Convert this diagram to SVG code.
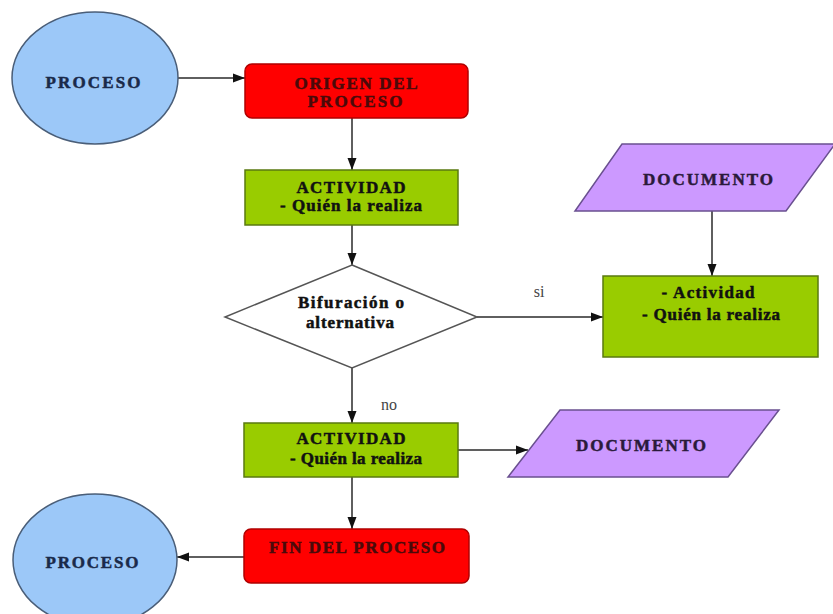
<svg xmlns="http://www.w3.org/2000/svg" width="833" height="614" viewBox="0 0 833 614">
<style>
.lbl{font-family:"Liberation Serif","Times New Roman",serif;font-weight:bold;font-size:17px;text-anchor:middle;stroke-width:0.5}
.edge{stroke:#2a2a2a;stroke-width:1.5;fill:none}
.proc{fill:#9cc8f8;stroke:#4a5e78;stroke-width:1.5}
.red{fill:#ff0000;stroke:#b00000;stroke-width:1.5}
.green{fill:#99cc00;stroke:#5a7a10;stroke-width:1.5}
.doc{fill:#cc99ff;stroke:#6a5090;stroke-width:1.5}
.dia{fill:#ffffff;stroke:#555555;stroke-width:1.5}
.small{font-family:"Liberation Serif","Times New Roman",serif;font-size:16px;fill:#444;text-anchor:middle}
.navy{fill:#1a2a4a;stroke:#1a2a4a}
.dred{fill:#4a0a0a;stroke:#4a0a0a}
.blk{fill:#111;stroke:#111}
.dpur{fill:#2a1a3a;stroke:#2a1a3a}
</style>
<defs>
<marker id="arr" viewBox="0 0 12 10" refX="12" refY="5" markerWidth="12" markerHeight="10" markerUnits="userSpaceOnUse" orient="auto">
<path d="M0,0.5 L12,5 L0,9.5 Z" fill="#111"/>
</marker>
</defs>
<rect width="833" height="614" fill="#ffffff"/>
<g id="connectors">
<line class="edge" x1="178" y1="78" x2="245" y2="78" marker-end="url(#arr)"/>
<line class="edge" x1="352" y1="118" x2="352" y2="170" marker-end="url(#arr)"/>
<line class="edge" x1="352" y1="225" x2="352" y2="265" marker-end="url(#arr)"/>
<line class="edge" x1="477" y1="317" x2="603" y2="317" marker-end="url(#arr)"/>
<line class="edge" x1="712" y1="211" x2="712" y2="276" marker-end="url(#arr)"/>
<line class="edge" x1="352" y1="368" x2="352" y2="423" marker-end="url(#arr)"/>
<line class="edge" x1="458" y1="450" x2="528" y2="450" marker-end="url(#arr)"/>
<line class="edge" x1="352" y1="477" x2="352" y2="529" marker-end="url(#arr)"/>
<line class="edge" x1="244" y1="557" x2="177" y2="557" marker-end="url(#arr)"/>
<rect x="522" y="281" width="34" height="22" fill="#ffffff"/>
<text class="small" x="539" y="297">si</text>
<text class="small" x="389" y="410">no</text>
</g>
<g id="proceso-inicio">
<ellipse class="proc" cx="95" cy="78" rx="83" ry="66"/>
<text class="lbl navy" x="93" y="88" textLength="95" lengthAdjust="spacing">PROCESO</text>
</g>
<g id="origen">
<rect class="red" x="245" y="64" width="223" height="54" rx="7"/>
<text class="lbl dred" x="356" y="89" textLength="123" lengthAdjust="spacing">ORIGEN DEL</text>
<text class="lbl dred" x="355" y="107" textLength="95" lengthAdjust="spacing">PROCESO</text>
</g>
<g id="actividad1">
<rect class="green" x="245" y="170" width="213" height="55"/>
<text class="lbl blk" x="351" y="193" textLength="109" lengthAdjust="spacing">ACTIVIDAD</text>
<text class="lbl blk" x="351" y="211" textLength="142" lengthAdjust="spacing">- Quién la realiza</text>
</g>
<g id="bifurcacion">
<polygon class="dia" points="352,265 477,317 352,368 225,317"/>
<text class="lbl blk" x="351" y="308" font-size="15" textLength="106" lengthAdjust="spacing">Bifuración o</text>
<text class="lbl blk" x="350" y="328" font-size="15" textLength="88" lengthAdjust="spacing">alternativa</text>
</g>
<g id="documento1">
<polygon class="doc" points="622,144 835,144 786,211 575,211"/>
<text class="lbl dpur" x="708" y="185" textLength="130" lengthAdjust="spacing">DOCUMENTO</text>
</g>
<g id="actividad-si">
<rect class="green" x="603" y="276" width="215" height="81"/>
<text class="lbl blk" x="708" y="298" textLength="93" lengthAdjust="spacing">- Actividad</text>
<text class="lbl blk" x="711" y="320" textLength="138" lengthAdjust="spacing">- Quién la realiza</text>
</g>
<g id="actividad2">
<rect class="green" x="244" y="423" width="214" height="54"/>
<text class="lbl blk" x="351" y="444" textLength="109" lengthAdjust="spacing">ACTIVIDAD</text>
<text class="lbl blk" x="356" y="464" textLength="132" lengthAdjust="spacing">- Quién la realiza</text>
</g>
<g id="documento2">
<polygon class="doc" points="560,410 779,410 728,477 508,477"/>
<text class="lbl dpur" x="641" y="451" textLength="130" lengthAdjust="spacing">DOCUMENTO</text>
</g>
<g id="fin">
<rect class="red" x="244" y="529" width="225" height="54" rx="7"/>
<text class="lbl dred" x="357" y="553" textLength="176" lengthAdjust="spacing">FIN DEL PROCESO</text>
</g>
<g id="proceso-fin">
<ellipse class="proc" cx="95" cy="560" rx="82" ry="66"/>
<text class="lbl navy" x="92" y="568" textLength="93" lengthAdjust="spacing">PROCESO</text>
</g>
</svg>
